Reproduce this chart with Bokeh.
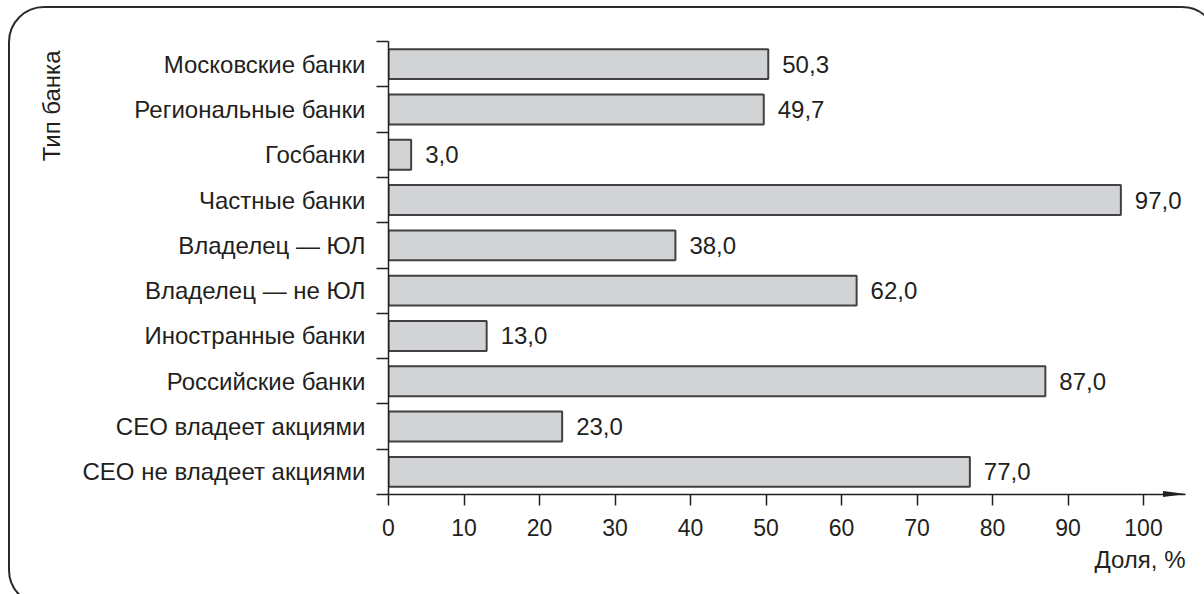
from bokeh.plotting import figure
from bokeh.models import (Range1d, FixedTicker, ColumnDataSource, LabelSet, Title,
                          InlineStyleSheet)
from bokeh.core.properties import value
from bokeh.embed import file_html
from bokeh.resources import INLINE

categories = ["Московские банки", "Региональные банки", "Госбанки", "Частные банки",
              "Владелец — ЮЛ", "Владелец — не ЮЛ", "Иностранные банки",
              "Российские банки", "СЕО владеет акциями", "СЕО не владеет акциями"]
values = [50.3, 49.7, 3.0, 97.0, 38.0, 62.0, 13.0, 87.0, 23.0, 77.0]
value_labels = ["50,3", "49,7", "3,0", "97,0", "38,0", "62,0", "13,0", "87,0", "23,0", "77,0"]
x_ticks = [0, 10, 20, 30, 40, 50, 60, 70, 80, 90, 100]
x_title = "Доля, %"
y_title = "Тип банка"

W, H = 1204, 594
BL, BT, BB, BR = 388, 41, 100, 19
XMAX = 105.56
N = len(categories)
FONT = "Liberation Sans"
TXT = "#231f20"

p = figure(width=W, height=H, output_backend="svg", toolbar_location=None,
           x_range=Range1d(0, XMAX), y_range=Range1d(N, 0),
           min_border_left=BL, min_border_top=BT, min_border_bottom=BB, min_border_right=BR)
p.outline_line_color = None
p.grid.visible = False
p.background_fill_color = "white"
p.border_fill_color = "white"

centers = [i + 0.5 for i in range(N)]
src = ColumnDataSource(dict(y=centers, v=values, lab=value_labels))
p.hbar(y="y", right="v", left=0, height=0.66, source=src,
       fill_color="#d1d3d4", line_color="#414042", line_width=2)

labels = LabelSet(x="v", y="y", text="lab", source=src, x_offset=14,
                  text_baseline="middle", text_align="left",
                  text_font=value(FONT), text_font_size=value("24px"), text_color=TXT)
p.add_layout(labels)

# x axis
xa = p.xaxis[0]
xa.ticker = FixedTicker(ticks=x_ticks, minor_ticks=[])
xa.major_tick_out = 11
xa.major_tick_in = 0
xa.major_tick_line_color = TXT
xa.major_tick_line_width = 1.5
xa.axis_line_color = TXT
xa.axis_line_width = 1.5
xa.major_label_text_font = FONT
xa.major_label_text_font_size = "23px"
xa.major_label_text_color = TXT
xa.major_label_standoff = 13

# y axis
ya = p.yaxis[0]
ya.ticker = FixedTicker(ticks=centers, minor_ticks=list(range(N + 1)))
ya.major_label_overrides = {c: name for c, name in zip(centers, categories)}
ya.major_tick_out = 0
ya.major_tick_in = 0
ya.minor_tick_out = 12
ya.minor_tick_in = 0
ya.minor_tick_line_color = TXT
ya.minor_tick_line_width = 1.5
ya.axis_line_color = TXT
ya.axis_line_width = 1.5
ya.major_label_text_font = FONT
ya.major_label_text_font_size = "24px"
ya.major_label_text_color = TXT
ya.major_label_standoff = 11

# axis titles
p.add_layout(Title(text=x_title, align="right", text_font=FONT, text_font_size="24px",
                   text_font_style="normal", text_color=TXT), "below")
p.add_layout(Title(text=y_title, align="right", offset=9, standoff=29, text_font=FONT,
                   text_font_size="24px", text_font_style="normal", text_color=TXT), "left")

# decorative rounded frame and x-axis arrow head (page styling)
css = """
:host { position: relative; overflow: hidden; }
:host::before {
  content: ""; position: absolute; left: 8px; top: 6px; width: 1210px; height: 600px;
  border: 2px solid #2b2b2b; border-radius: 36px; box-sizing: border-box;
  pointer-events: none; z-index: 5;
}
:host::after {
  content: ""; position: absolute; left: 1163px; top: 490.5px; width: 0; height: 0;
  border-left: 23px solid #231f20; border-top: 3.5px solid transparent;
  border-bottom: 3.5px solid transparent; pointer-events: none; z-index: 5;
}
"""
p.stylesheets = [InlineStyleSheet(css=css)]

open("out.html", "w").write(file_html(p, INLINE))
